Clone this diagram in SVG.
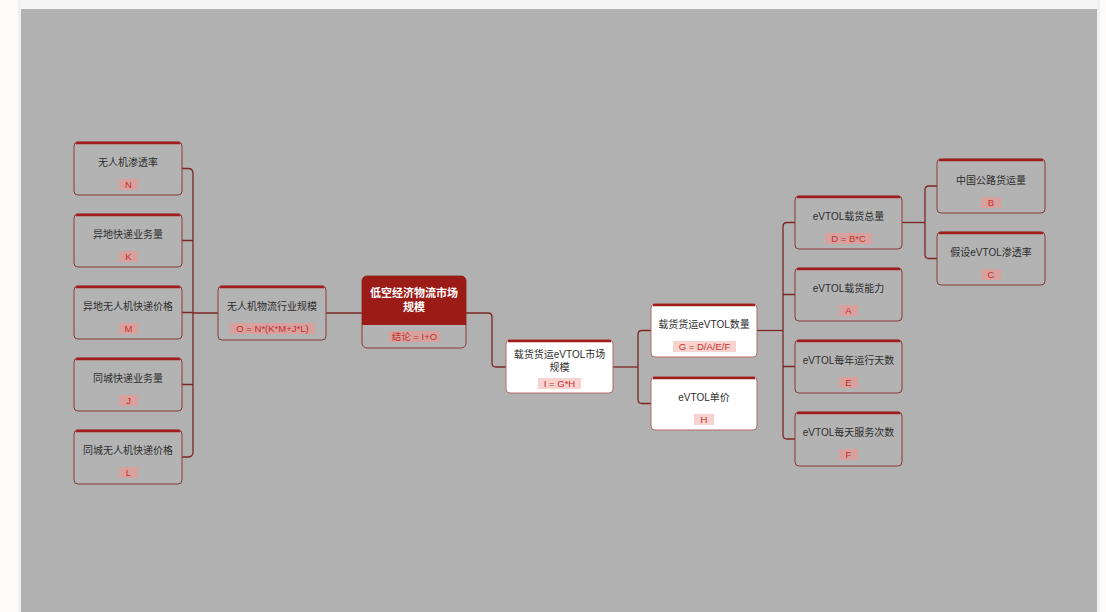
<svg xmlns="http://www.w3.org/2000/svg" width="1106" height="612" viewBox="0 0 1106 612">
<style>
.nb{fill:#b3b3b3;stroke:#8a3a36;stroke-width:1}
.nw{fill:#ffffff;stroke:#b46a66;stroke-width:1}
.top{fill:none;stroke:#9e1f1a;stroke-width:2.5}
.lbl{font-family:"Liberation Sans","Noto Sans CJK SC",sans-serif;font-size:10px;fill:#2e2e2e;text-anchor:middle}
.bt{font-family:"Liberation Sans","Noto Sans CJK SC",sans-serif;font-size:9.5px;fill:#c0302a;text-anchor:middle}
.bg{fill:#d8a19e}
.bw{fill:#f8d2cf}
.cn{fill:none;stroke:#7c2722;stroke-width:1.3}
</style>
<rect x="0" y="0" width="1106" height="612" fill="#fdfafa"/>
<rect x="18" y="0" width="1082" height="612" fill="#f0f0f0"/>
<rect x="21" y="0" width="1076" height="9" fill="#f5f5f5"/>
<rect x="21" y="9" width="1076" height="603" fill="#b1b1b1"/>

<g id="connectors">
<path class="cn" d="M182 168.5 H188 Q193 168.5 193 173.5 V452 Q193 457 188 457 H182"/>
<path class="cn" d="M182 240.5 H193 M182 312.5 H193 M182 384.5 H193"/>
<path class="cn" d="M193 313 H218 M326 313 H362"/>
<path class="cn" d="M466 313 H488 Q492 313 492 317 V363 Q492 367 496 367 H506"/>
<path class="cn" d="M613 367 H638"/>
<path class="cn" d="M651 330.5 H642 Q638 330.5 638 334.5 V399.5 Q638 403.5 642 403.5 H651"/>
<path class="cn" d="M757 330.5 H783"/>
<path class="cn" d="M795 222.5 H787 Q783 222.5 783 226.5 V435 Q783 439 787 439 H795"/>
<path class="cn" d="M783 294.5 H795 M783 366.5 H795"/>
<path class="cn" d="M902 222.5 H925"/>
<path class="cn" d="M937 186 H929 Q925 186 925 190 V254.5 Q925 258.5 929 258.5 H937"/>
</g>

<g id="n-N">
<rect class="nb" x="74" y="142" width="108" height="53" rx="4"/>
<path class="top" d="M76 143 H180"/>
<text class="lbl" x="128" y="166">无人机渗透率</text>
<rect class="bg" x="119" y="179" width="19" height="11"/>
<text class="bt" x="128.5" y="188">N</text>
</g>
<g id="n-K">
<rect class="nb" x="74" y="214" width="108" height="53" rx="4"/>
<path class="top" d="M76 215 H180"/>
<text class="lbl" x="128" y="238">异地快递业务量</text>
<rect class="bg" x="119" y="251" width="19" height="11"/>
<text class="bt" x="128.5" y="260">K</text>
</g>
<g id="n-M">
<rect class="nb" x="74" y="286" width="108" height="53" rx="4"/>
<path class="top" d="M76 287 H180"/>
<text class="lbl" x="128" y="310">异地无人机快递价格</text>
<rect class="bg" x="119" y="323" width="19" height="11"/>
<text class="bt" x="128.5" y="332">M</text>
</g>
<g id="n-J">
<rect class="nb" x="74" y="358" width="108" height="53" rx="4"/>
<path class="top" d="M76 359 H180"/>
<text class="lbl" x="128" y="382">同城快递业务量</text>
<rect class="bg" x="119" y="395" width="19" height="11"/>
<text class="bt" x="128.5" y="404">J</text>
</g>
<g id="n-L">
<rect class="nb" x="74" y="430" width="108" height="54" rx="4"/>
<path class="top" d="M76 431 H180"/>
<text class="lbl" x="128" y="454">同城无人机快递价格</text>
<rect class="bg" x="119" y="467" width="19" height="11"/>
<text class="bt" x="128.5" y="476">L</text>
</g>
<g id="n-O">
<rect class="nb" x="218" y="286" width="108" height="54" rx="4"/>
<path class="top" d="M220 287 H324"/>
<text class="lbl" x="272" y="310">无人机物流行业规模</text>
<rect class="bg" x="230" y="323" width="85" height="11"/>
<text class="bt" x="272.5" y="332">O = N*(K*M+J*L)</text>
</g>
<g id="n-main">
<rect class="nb" x="362" y="276" width="104" height="72" rx="5"/>
<path d="M362 325 V281 Q362 276 367 276 H461 Q466 276 466 281 V325 Z" fill="#9b1b16"/>
<text x="414" y="297" font-family="Liberation Sans,Noto Sans CJK SC,sans-serif" font-size="11" font-weight="bold" fill="#ffffff" text-anchor="middle">低空经济物流市场</text>
<text x="414" y="311" font-family="Liberation Sans,Noto Sans CJK SC,sans-serif" font-size="11" font-weight="bold" fill="#ffffff" text-anchor="middle">规模</text>
<rect class="bg" x="389" y="331" width="51" height="11"/>
<text class="bt" x="414.5" y="340">结论 = I+O</text>
</g>
<g id="n-I">
<rect class="nw" x="506" y="340" width="107" height="53" rx="4"/>
<path class="top" d="M508 341 H611" stroke="#c9605a"/>
<text class="lbl" x="559.5" y="358">载货货运eVTOL市场</text>
<text class="lbl" x="559.5" y="371">规模</text>
<rect class="bw" x="538" y="378" width="43" height="11"/>
<text class="bt" x="559.5" y="387">I = G*H</text>
</g>
<g id="n-G">
<rect class="nw" x="651" y="304" width="106" height="53" rx="4"/>
<path class="top" d="M653 305 H755"/>
<text class="lbl" x="704" y="328">载货货运eVTOL数量</text>
<rect class="bw" x="673" y="341" width="63" height="11"/>
<text class="bt" x="704.5" y="350">G = D/A/E/F</text>
</g>
<g id="n-H">
<rect class="nw" x="651" y="377" width="106" height="53" rx="4"/>
<path class="top" d="M653 378 H755"/>
<text class="lbl" x="704" y="401">eVTOL单价</text>
<rect class="bw" x="694" y="414" width="20" height="11"/>
<text class="bt" x="704" y="423">H</text>
</g>
<g id="n-D">
<rect class="nb" x="795" y="196" width="107" height="53" rx="4"/>
<path class="top" d="M797 197 H900"/>
<text class="lbl" x="848.5" y="220">eVTOL载货总量</text>
<rect class="bg" x="825" y="233" width="47" height="11"/>
<text class="bt" x="848.5" y="242">D = B*C</text>
</g>
<g id="n-A">
<rect class="nb" x="795" y="268" width="107" height="53" rx="4"/>
<path class="top" d="M797 269 H900"/>
<text class="lbl" x="848.5" y="292">eVTOL载货能力</text>
<rect class="bg" x="839" y="305" width="19" height="11"/>
<text class="bt" x="848.5" y="314">A</text>
</g>
<g id="n-E">
<rect class="nb" x="795" y="340" width="107" height="53" rx="4"/>
<path class="top" d="M797 341 H900"/>
<text class="lbl" x="848.5" y="364">eVTOL每年运行天数</text>
<rect class="bg" x="839" y="377" width="19" height="11"/>
<text class="bt" x="848.5" y="386">E</text>
</g>
<g id="n-F">
<rect class="nb" x="795" y="412" width="107" height="54" rx="4"/>
<path class="top" d="M797 413 H900"/>
<text class="lbl" x="848.5" y="436">eVTOL每天服务次数</text>
<rect class="bg" x="839" y="449" width="19" height="11"/>
<text class="bt" x="848.5" y="458">F</text>
</g>
<g id="n-B">
<rect class="nb" x="937" y="159" width="108" height="54" rx="4"/>
<path class="top" d="M939 160 H1043"/>
<text class="lbl" x="991" y="184">中国公路货运量</text>
<rect class="bg" x="981" y="197" width="20" height="11"/>
<text class="bt" x="991" y="206">B</text>
</g>
<g id="n-C">
<rect class="nb" x="937" y="232" width="108" height="53" rx="4"/>
<path class="top" d="M939 233 H1043"/>
<text class="lbl" x="991" y="256">假设eVTOL渗透率</text>
<rect class="bg" x="981" y="269" width="20" height="11"/>
<text class="bt" x="991" y="278">C</text>
</g>
</svg>
